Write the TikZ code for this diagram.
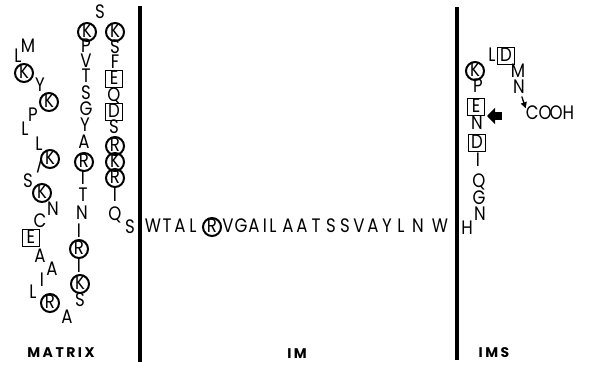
\documentclass[tikz,border=0pt]{standalone}
\usepackage{fontspec}
\newfontfamily\resfont[FakeStretch=0.85]{Poppins}
\newfontfamily\lblfont[LetterSpace=18]{Poppins}
\usetikzlibrary{arrows.meta}

\begin{document}
\begin{tikzpicture}[
    x=1pt, y=-1pt,
    every node/.style={font=\resfont\fontsize{19.5}{19.5}\selectfont, inner sep=0pt, text height=11pt, text depth=0pt},
    resi/.style={},
    tilted/.style={rotate=-15},
    basic/.style={draw, circle, line width=2pt, minimum size=18pt},
    acidic/.style={draw, rectangle, line width=1.7pt, minimum size=17pt},
    membrane/.style={line width=3.2pt},
    sidelabel/.style={font=\lblfont\bfseries\fontsize{14}{14}\selectfont, text height=9pt},
    termarrow/.style={line width=1.3pt, -{Triangle[length=6pt, width=6pt]}, shorten <=3pt},
    cutarrow/.style={line width=8pt, -{Triangle[length=8pt, width=16pt]}}
]
\useasboundingbox (0,0) rectangle (593,368);

% membrane
\draw[membrane] (140,6) -- (140,362);
\draw[membrane] (457,7) -- (457,360);

% matrix side
\foreach \x/\y/\t/\s [count=\i] in {28/47/M/resi, 18/57/L/resi, 24/73/K/basic, 40/86/Y/resi, 49/102/K/basic,
    33/116/P/resi, 25/130/L/resi, 39/145/L/resi, 50/159/K/basic, 39/168/I/tilted, 28/182/S/resi, 42/193/K/basic,
    53/210/N/resi, 40/222/C/resi, 31/238/E/acidic, 40/257/A/resi, 52/270/A/resi, 42/281/I/resi, 33/293/L/resi,
    50/303/R/basic, 67/318/A/resi, 80/301/S/resi, 80/284/K/basic, 79/267/I/resi, 79/249/R/basic, 79/232/I/resi,
    82/214/N/resi, 83/196/T/resi, 83/179/I/resi, 84/162/R/basic, 84/143/A/resi, 85/126/Y/resi, 86/110/G/resi,
    86/94/S/resi, 86/77/T/resi, 86/62/V/resi, 86/47/P/resi, 87/32/K/basic, 100/13/S/resi, 115/32/K/basic,
    115/48/S/resi, 115/63/F/resi, 114/79/E/acidic, 114/96/Q/resi, 114/112/D/acidic, 114/128/S/resi, 115/146/R/basic,
    115/162/K/basic, 115/178/R/basic, 115/196/I/resi, 115/215/Q/resi, 130/228/S/resi}
    \node[\s] (mx\i) at (\x,\y) {\t};

% membrane span
\foreach \x/\t/\s [count=\i] in {153/W/resi, 167/T/resi, 180/A/resi, 193/L/resi, 212/R/basic, 228/V/resi,
    241/G/resi, 254/A/resi, 265/I/resi, 273/L/resi, 288/A/resi, 302/A/resi, 316/T/resi, 331/S/resi, 345/S/resi,
    359/V/resi, 373/A/resi, 387/Y/resi, 401/L/resi, 418/N/resi, 440/W/resi}
    \node[\s] (tm\i) at (\x,227) {\t};

% intermembrane space
\foreach \x/\y/\t/\s [count=\i] in {467/229/H/resi, 480/215/N/resi, 479/199/G/resi, 479/182/Q/resi,
    478/161/I/resi, 477/143/D/acidic, 477/124/N/resi, 476/107/E/acidic, 478/87/P/resi, 475/71/K/basic,
    492/56/L/resi, 506/56/D/acidic, 518/72/M/resi, 519/88/N/resi}
    \node[\s] (ims\i) at (\x,\y) {\t};

\node (cooh) at (550,114) {CO\kern-2pt OH};
\draw[termarrow] (ims14) -- (cooh.north west);

\coordinate (cuttail) at (502,116);
\coordinate (cuthead) at (487,116);
\draw[cutarrow] (cuttail) -- (cuthead);

\node[sidelabel] (lblmatrix) at (61,353) {MATRIX};
\node[sidelabel] (lblim) at (297,354) {IM};
\node[sidelabel] (lblims) at (494,353) {IMS};
\end{tikzpicture}
\end{document}
